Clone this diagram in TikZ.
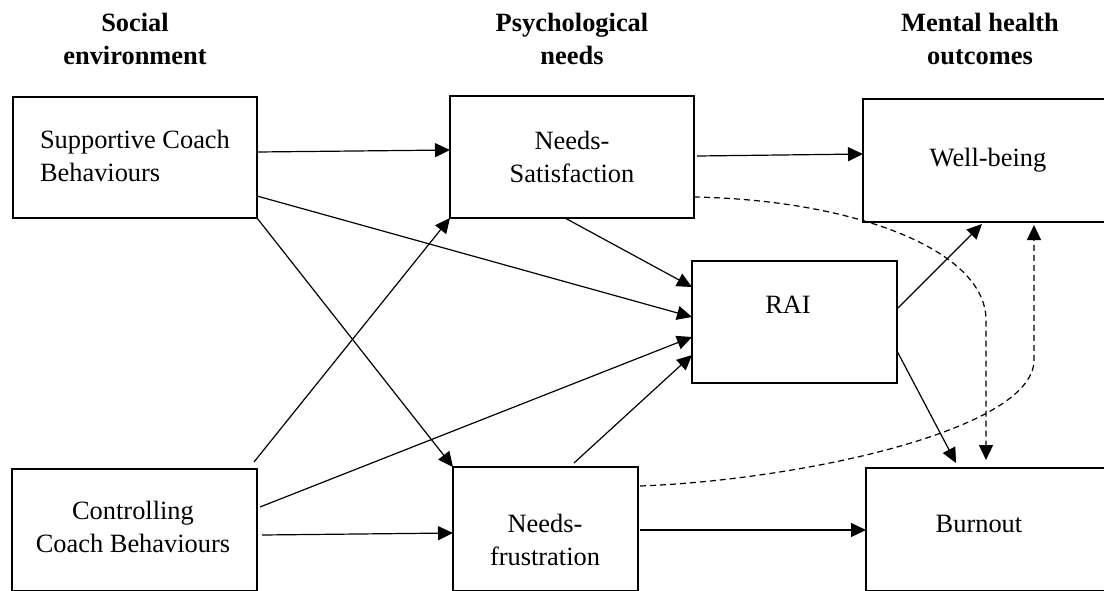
\documentclass[tikz,border=0pt]{standalone}
\usepackage{fontspec}
\setmainfont{Liberation Serif}
\usetikzlibrary{arrows.meta,calc}
\begin{document}
\begin{tikzpicture}[x=1pt,y=-1pt,
  box/.style={draw, line width=2.6pt, inner sep=0pt, outer sep=0pt},
  txt/.style={inner sep=0pt, outer sep=0pt, font=\fontsize{26.4}{33}\selectfont},
  head/.style={txt, align=center, font=\fontsize{26.4}{33}\selectfont\bfseries},
  arr/.style={line width=1.2pt, -{Triangle[length=15pt,width=14pt]}},
  darr/.style={arr, dash pattern=on 6pt off 4pt}]
\useasboundingbox (0,0) rectangle (1104,590);
\fill[white] (0,0) rectangle (1104,590);
\clip (0,0) rectangle (1104,590);

% headers
\node[head, anchor=base] (h1) at (135,64) {Social\\environment};
\node[head, anchor=base] (h2) at (572,64) {Psychological\\needs};
\node[head, anchor=base] (h3) at (980,64) {Mental health\\outcomes};

% boxes
\node[box, minimum width=244pt, minimum height=121pt] (sup) at (135,157.5) {};
\node[box, minimum width=245pt, minimum height=122pt] (con) at (134.5,530) {};
\node[box, minimum width=244pt, minimum height=122pt] (ns)  at (572,157) {};
\node[box, minimum width=185pt, minimum height=124pt] (nf)  at (545.5,529) {};
\node[box, minimum width=205pt, minimum height=122pt] (rai) at (794.5,322) {};
\node[box, minimum width=257pt, minimum height=123pt] (wb)  at (991.5,160.5) {};
\node[box, minimum width=254pt, minimum height=123pt] (bo)  at (993,529.5) {};

% texts
\node[txt, anchor=base west, align=left] (supt) at (40,181) {Supportive Coach\\Behaviours};
\node[txt, anchor=base, align=center] (cont) at (133,552) {Controlling\\Coach Behaviours};
\node[txt, anchor=base, align=center] (nst) at (572,182) {Needs-\\Satisfaction};
\node[txt, anchor=base, align=center] (nft) at (545,565) {Needs-\\frustration};
\node[txt, anchor=base] (rait) at (788,313) {RAI};
\node[txt, anchor=base] (wbt) at (988,166) {Well-being};
\node[txt, anchor=base] (bot) at (979,532) {Burnout};

% connectors
\draw[arr] ($(sup.north east)+(0,55)$) -- ($(ns.north west)+(0,54)$);
\draw[arr] ($(sup.north east)+(0,99)$) -- ($(rai.north west)+(0,56)$);
\draw[arr] (sup.south east) -- (nf.north west);
\draw[arr] ($(con.north east)+(-3,-7)$) -- (ns.south west);
\draw[arr] ($(con.north east)+(3,38)$) -- ($(rai.north west)+(0,76)$);
\draw[arr] ($(con.north east)+(5,66)$) -- ($(nf.north west)+(0,66)$);
\draw[arr] ($(ns.south west)+(115,0)$) -- ($(rai.north west)+(0,26)$);
\draw[arr] ($(nf.north west)+(121,-4)$) -- ($(rai.north west)+(0,94)$);
\draw[arr] ($(ns.north east)+(3,60)$) -- ($(wb.north west)+(0,55)$);
\draw[arr] ($(nf.north east)+(2,63)$) -- ($(bo.north west)+(0,62)$);
\draw[arr] ($(rai.north east)+(1,47)$) -- ($(wb.south west)+(119,2)$);
\draw[arr] ($(rai.north east)+(0,90)$) -- ($(bo.north west)+(90,-5)$);

\draw[darr] ($(ns.north east)+(0,101)$) .. controls +(160,3) and +(0,-70) .. ($(bo.north west)+(120,-148)$) -- ($(bo.north west)+(120,-8)$);
\draw[darr] ($(nf.north east)+(2,19)$) .. controls +(160,-6) and +(0,70) .. ($(wb.south west)+(171,138)$) -- ($(wb.south west)+(171,3)$);
\end{tikzpicture}
\end{document}
